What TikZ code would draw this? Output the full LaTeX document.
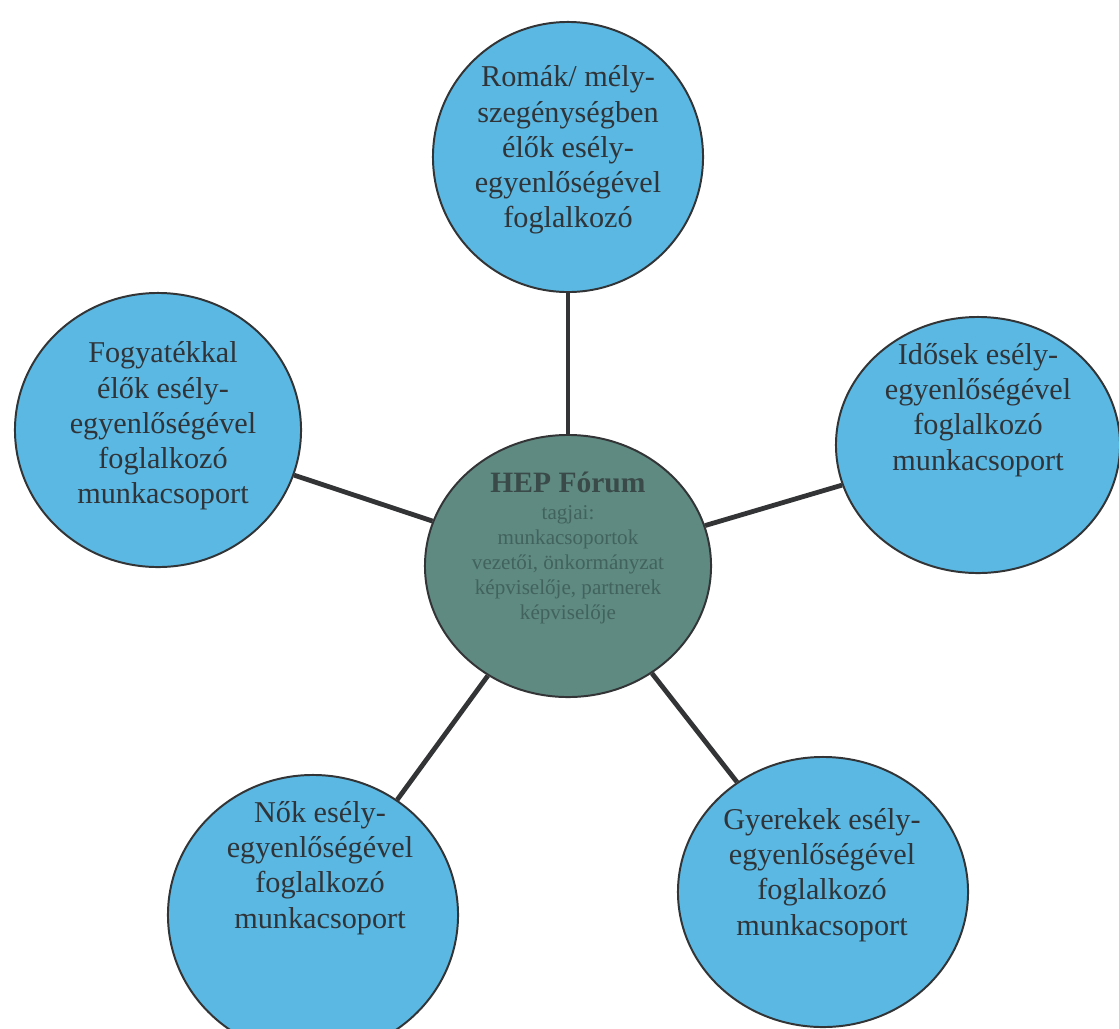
\documentclass[tikz,border=0pt]{standalone}
\usepackage{fontspec}
\setmainfont{Liberation Serif}
\usetikzlibrary{shapes.geometric}
\definecolor{bluefill}{RGB}{90,184,226}
\definecolor{tealfill}{RGB}{94,138,130}
\definecolor{edge}{RGB}{50,52,54}
\definecolor{txt}{RGB}{48,52,56}
\definecolor{htxt}{RGB}{58,74,72}
\definecolor{ctxt}{RGB}{66,98,93}
\tikzset{
  x=0.025cm, y=-0.025cm,
  bubble/.style={ellipse, draw=edge, line width=1.4pt, fill=bluefill, inner sep=0pt},
  hub/.style={ellipse, draw=edge, line width=1.4pt, fill=tealfill, inner sep=0pt},
  bubbletext/.style={align=center, text=txt, font=\fontsize{21.5}{25}\selectfont, inner sep=0pt},
  hubtext/.style={align=center, text=ctxt, font=\fontsize{15}{17.8}\selectfont, inner sep=0pt},
  link/.style={draw=edge, line width=3.4pt}
}
\begin{document}
\begin{tikzpicture}
\useasboundingbox[fill=white] (0,0) rectangle (1119,1028);
\begin{scope}
\clip (0,0) rectangle (1119,1028);
\node[bubble, minimum width=6.75cm, minimum height=6.75cm] (top) at (568,157) {};
\node[bubble, minimum width=7.15cm, minimum height=6.85cm] (left) at (158,430) {};
\node[bubble, minimum width=7.1cm, minimum height=6.4cm] (right) at (978,445) {};
\node[hub, minimum width=7.15cm, minimum height=6.55cm] (hub) at (568,566) {};
\node[bubble, minimum width=7.25cm, minimum height=7.0cm] (bl) at (313,915) {};
\node[bubble, minimum width=7.25cm, minimum height=6.75cm] (br) at (823,892) {};

\draw[link] (top) -- (hub);
\draw[link] (left) -- (hub);
\draw[link] (right) -- (hub);
\draw[link] (bl) -- (hub);
\draw[link] (br) -- (hub);

\node[bubbletext] (ttop) at (568,150) {Romák/ mély-\\szegénységben\\élők esély-\\egyenlőségével\\foglalkozó};
\node[bubbletext] (tleft) at (163,426) {Fogyatékkal\\élők esély-\\egyenlőségével\\foglalkozó\\munkacsoport};
\node[bubbletext] (tright) at (978,410) {Idősek esély-\\egyenlőségével\\foglalkozó\\munkacsoport};
\node[bubbletext] (tbl) at (320,868) {Nők esély-\\egyenlőségével\\foglalkozó\\munkacsoport};
\node[bubbletext] (tbr) at (822,875) {Gyerekek esély-\\egyenlőségével\\foglalkozó\\munkacsoport};
\node[hubtext] (thub) at (568,548) {{\color{htxt}\fontsize{21}{24}\selectfont\bfseries HEP Fórum}\\[1pt]tagjai:\\munkacsoportok\\vezetői, önkormányzat\\képviselője, partnerek\\képviselője};
\end{scope}
\end{tikzpicture}
\end{document}
